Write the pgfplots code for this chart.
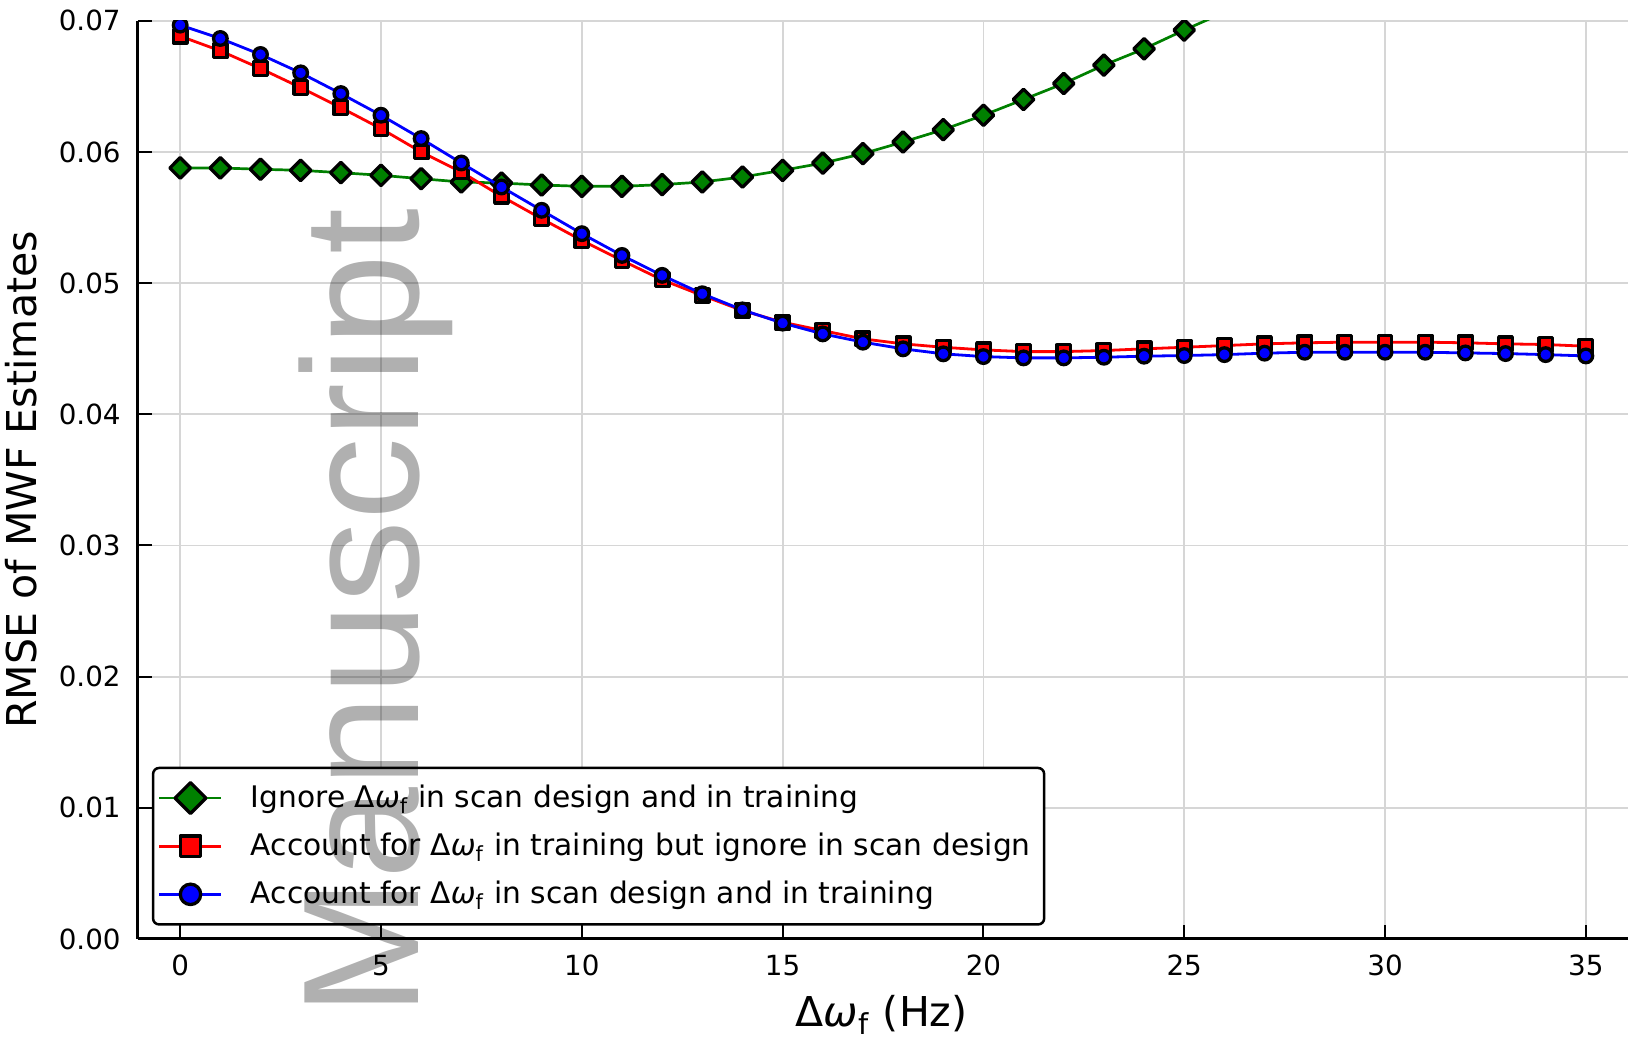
\documentclass[border=0pt]{standalone}
\usepackage{fontspec}
\setmainfont{DejaVu Sans}
\newfontfamily\wmfont{Liberation Sans}
\usepackage{pgfplots}
\pgfplotsset{compat=1.18}
\definecolor{pgreen}{RGB}{0,128,0}
\definecolor{pred}{RGB}{255,0,0}
\definecolor{pblue}{RGB}{0,0,255}
\newcommand{\dw}{Δ\textit{ω}\textsubscript{f}}
\begin{document}
\begin{tikzpicture}
\begin{axis}[
  scale only axis, width=149mm, height=91.82mm,
  at={(13.8mm,9.8mm)}, anchor=south west,
  xmin=-1.05, xmax=36.05, ymin=0, ymax=0.07,
  axis x line=bottom, axis y line=left,
  axis line style={-, line width=0.3mm, black},
  xtick={0,5,10,15,20,25,30,35},
  ytick={0,0.01,0.02,0.03,0.04,0.05,0.06,0.07},
  scaled y ticks=false,
  /pgf/number format/assume math mode=true,
  ticklabel style={font=\fontsize{7.9}{9.5}\selectfont},
  xticklabel style={yshift=-0.35mm},
  yticklabel style={xshift=-0.5mm, /pgf/number format/.cd, fixed, fixed zerofill, precision=2},
  tick align=inside, major tick length=1.35mm,
  tick style={black, line width=0.2mm},
  grid=major, major grid style={black!16, line width=0.18mm},
  xlabel={\dw{} (Hz)}, ylabel={RMSE of MWF Estimates},
  every axis x label/.style={at={(axis description cs:0.499,-0.0825)}, anchor=center,
    font=\fontsize{11.7}{14}\selectfont},
  every axis y label/.style={at={(axis description cs:-0.0785,0.5)}, anchor=center, rotate=90,
    font=\fontsize{11.7}{14}\selectfont},
  clip marker paths=true,
  legend style={at={(0.0093,0.0145)}, anchor=south west, draw=black, line width=0.25mm,
    rounded corners=0.6mm, font=\fontsize{8.45}{10}\selectfont, cells={anchor=west},
    inner xsep=0.5mm, inner ysep=0.6mm, column sep=2.3mm,
    nodes={inner xsep=0.5mm, inner ysep=0.65mm, text height=0.76em, text depth=0.24em}},
  legend image code/.code={
    \draw[#1, mark=none] (0mm,0mm) -- (6.2mm,0mm);
    \draw[#1, every mark/.append style={scale=1.5}] plot coordinates {(3.1mm,0mm)};
  },
]
\addplot[color=pgreen, line width=0.27mm, mark=diamond*, mark size=1.03mm,
  mark options={xscale=1.333, draw=black, fill=pgreen, line width=0.33mm, line join=round}] coordinates {
(0,0.05878) (1,0.05878) (2,0.05868) (3,0.0586) (4,0.05842) (5,0.05822) (6,0.05796)
(7,0.05771) (8,0.05763) (9,0.05748) (10,0.05738) (11,0.05738) (12,0.05751) (13,0.05771)
(14,0.05809) (15,0.0586) (16,0.05915) (17,0.05987) (18,0.06076) (19,0.0617) (20,0.0628)
(21,0.0640) (22,0.06522) (23,0.06662) (24,0.06786) (25,0.06929) (26,0.07065) (27,0.0722)
};
\addlegendentry{Ignore \dw{} in scan design and in training}
\addplot[color=pred, line width=0.28mm, mark=square*, mark size=0.68mm,
  mark options={draw=black, fill=pred, line width=0.33mm, line join=round}] coordinates {
(0,0.06883) (1,0.06771) (2,0.06636) (3,0.06491) (4,0.06338) (5,0.06178) (6,0.06)
(7,0.05847) (8,0.05662) (9,0.05491) (10,0.05326) (11,0.05173) (12,0.05025) (13,0.04906)
(14,0.04791) (15,0.04702) (16,0.04638) (17,0.04575) (18,0.04537) (19,0.04511) (20,0.04491)
(21,0.04478) (22,0.04478) (23,0.04486) (24,0.04499) (25,0.04511) (26,0.04524) (27,0.04537)
(28,0.04545) (29,0.0455) (30,0.0455) (31,0.0455) (32,0.04545) (33,0.04537) (34,0.04532) (35,0.04519)
};
\addlegendentry{Account for \dw{} in training but ignore in scan design\hspace*{0.35mm}}
\addplot[color=pblue, line width=0.28mm, mark=*, mark size=0.68mm,
  mark options={draw=black, fill=pblue, line width=0.33mm}] coordinates {
(0,0.06967) (1,0.06865) (2,0.06743) (3,0.06603) (4,0.06445) (5,0.0628) (6,0.06102)
(7,0.05916) (8,0.05733) (9,0.05555) (10,0.05377) (11,0.05211) (12,0.05059) (13,0.04919)
(14,0.04796) (15,0.04695) (16,0.04613) (17,0.0455) (18,0.04499) (19,0.04461) (20,0.0444)
(21,0.0443) (22,0.0443) (23,0.04435) (24,0.04443) (25,0.04448) (26,0.04455) (27,0.04466)
(28,0.04473) (29,0.04473) (30,0.04473) (31,0.04473) (32,0.04468) (33,0.04463) (34,0.04455) (35,0.04445)
};
\addlegendentry{Account for \dw{} in scan design and in training}
\end{axis}
\node[font=\wmfont\fontsize{47}{50}\selectfont, text=black, text opacity=0.31,
  rotate=90, anchor=base west, inner sep=0pt] at (41.8mm,1.96mm) {Manuscript};
\pgfresetboundingbox
\path[use as bounding box] (0,0) rectangle (162.8mm,103.7mm);
\end{tikzpicture}
\end{document}
